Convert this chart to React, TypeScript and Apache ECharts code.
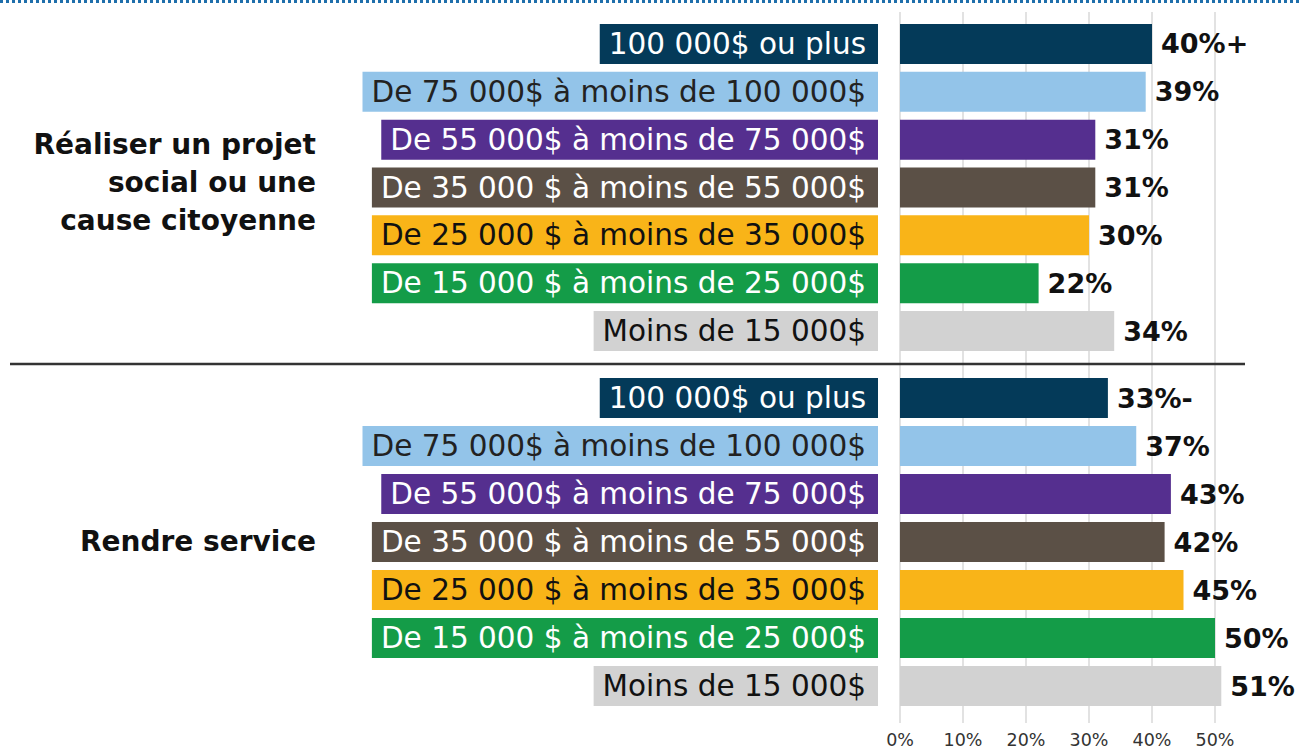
import React, { useEffect, useRef } from "react";
import * as echarts from "echarts";

const categories = [
  "100 000$ ou plus",
  "De 75 000$ à moins de 100 000$",
  "De 55 000$ à moins de 75 000$",
  "De 35 000 $ à moins de 55 000$",
  "De 25 000 $ à moins de 35 000$",
  "De 15 000 $ à moins de 25 000$",
  "Moins de 15 000$",
];
const barColors = ["#043a59", "#93c4e9", "#552f8f", "#5b5046", "#f9b418", "#149c48", "#d2d2d2"];
const labelTextColors = ["#ffffff", "#222222", "#ffffff", "#ffffff", "#111111", "#ffffff", "#111111"];

const valuesProjet = [40, 39, 31, 31, 30, 22, 34];
const labelsProjet = ["40%+", "39%", "31%", "31%", "30%", "22%", "34%"];
const valuesService = [33, 37.5, 43, 42, 45, 50, 51];
const labelsService = ["33%-", "37%", "43%", "42%", "45%", "50%", "51%"];

const groupNames = ["Réaliser un projet\nsocial ou une\ncause citoyenne", "Rendre service"];
const xTicks = [0, 10, 20, 30, 40, 50];

const FONT = "'DejaVu Sans', sans-serif";

export default function App() {
  const ref = useRef<HTMLDivElement>(null);
  useEffect(() => {
    document.body.style.margin = "0";
    if (!ref.current) return;
    const chart = echarts.init(ref.current, null, { renderer: "svg" });
    const rich: any = {};
    categories.forEach((_, i) => {
      rich["c" + i] = {
        backgroundColor: barColors[i],
        color: labelTextColors[i],
        fontSize: 29.5,
        fontFamily: FONT,
        height: 40,
        lineHeight: 40,
        padding: [0, 12, 0, 9],
      };
    });
    const yCat = (gi: number) => ({
      gridIndex: gi,
      type: "category",
      data: categories,
      inverse: true,
      axisLine: { show: false },
      axisTick: { show: false },
      splitLine: { show: false },
      axisLabel: {
        margin: 22,
        formatter: (v: string, i: number) => `{c${i}|${v}}`,
        rich,
      },
    });
    const xMin = xTicks[0];
    const xMax = xTicks[xTicks.length - 1];
    const mkSeries = (gi: number, vals: number[], labels: string[]) => ({
      type: "bar",
      xAxisIndex: gi,
      yAxisIndex: gi,
      barWidth: 40,
      clip: false,
      data: vals.map((v, i) => ({ value: v, itemStyle: { color: barColors[i] } })),
      label: {
        show: true,
        position: "right",
        distance: 9,
        fontSize: 27,
        fontWeight: "bold",
        fontFamily: FONT,
        color: "#111",
        formatter: (p: any) => labels[p.dataIndex],
      },
    });
    chart.setOption({
      animation: false,
      grid: [
        { left: 900, width: 315, top: 20, height: 335 },
        { left: 900, width: 315, top: 374, height: 336 },
        { left: 900, width: 315, top: 12, height: 711 },
      ],
      xAxis: [
        { gridIndex: 0, type: "value", min: xMin, max: xMax, show: false },
        { gridIndex: 1, type: "value", min: xMin, max: xMax, show: false },
        {
          gridIndex: 2,
          type: "value",
          min: xMin,
          max: xMax,
          interval: 10,
          axisLine: { show: false },
          axisTick: { show: false },
          splitLine: { show: true, lineStyle: { color: "#e2e2e2", width: 2 } },
          axisLabel: { formatter: "{value}%", fontSize: 17.5, color: "#333", margin: 8, fontFamily: FONT },
        },
      ],
      yAxis: [yCat(0), yCat(1), { gridIndex: 2, type: "value", show: false }],
      series: [mkSeries(0, valuesProjet, labelsProjet), mkSeries(1, valuesService, labelsService)],
      graphic: [
        {
          type: "line",
          z: 10,
          shape: { x1: 0, y1: 1.5, x2: 1301, y2: 1.5 },
          style: { stroke: "#1f6fab", lineWidth: 3, lineDash: [3, 3] },
        },
        {
          type: "line",
          z: 10,
          shape: { x1: 10, y1: 364, x2: 1245, y2: 364 },
          style: { stroke: "#333333", lineWidth: 2.5 },
        },
        {
          type: "text",
          x: 316,
          y: 182,
          style: {
            text: groupNames[0],
            align: "right",
            verticalAlign: "middle",
            fontSize: 28,
            fontWeight: "bold",
            fontFamily: FONT,
            lineHeight: 38,
            fill: "#111",
          },
        },
        {
          type: "text",
          x: 316,
          y: 541,
          style: {
            text: groupNames[1],
            align: "right",
            verticalAlign: "middle",
            fontSize: 28,
            fontWeight: "bold",
            fontFamily: FONT,
            fill: "#111",
          },
        },
      ],
    });
    return () => chart.dispose();
  }, []);
  return <div ref={ref} style={{ width: 1301, height: 751 }} />;
}
